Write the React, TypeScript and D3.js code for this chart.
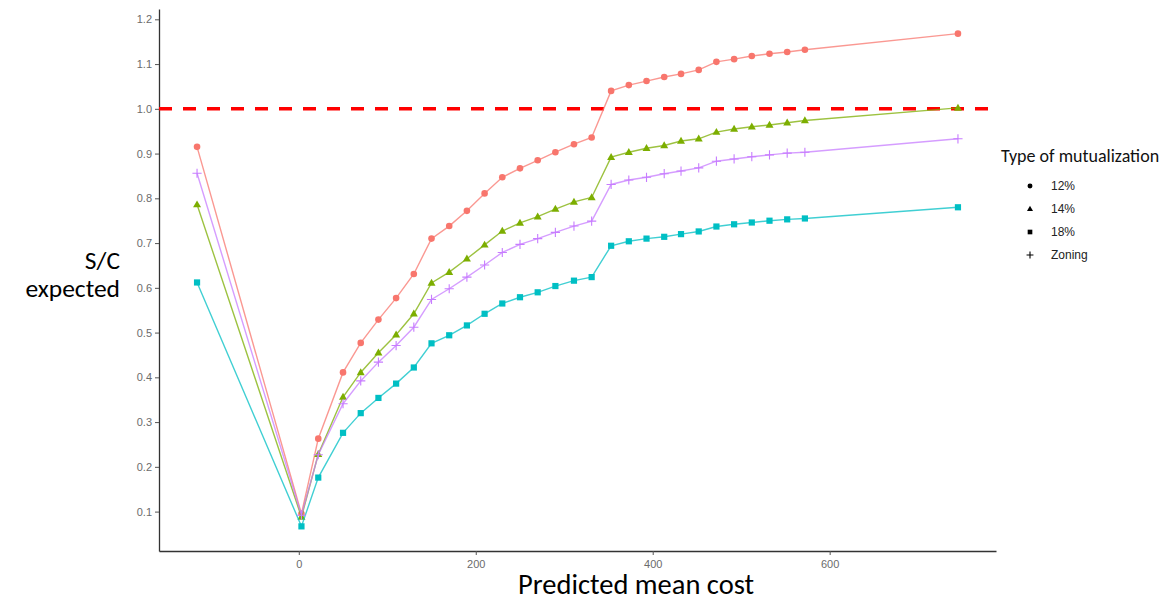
import { useEffect, useRef } from 'react';
import * as d3 from 'd3';

// predicted mean cost (x) shared by all series
const costs = [
  -115, 3, 22, 50, 70, 90, 110, 130, 150, 170, 190, 210, 230, 250, 270, 290,
  311, 331, 353, 373, 393, 413, 432, 452, 472, 492, 512, 532, 552, 572, 745,
];

const sc12 = [
  0.915, 0.095, 0.263, 0.411, 0.477, 0.529, 0.577, 0.631, 0.71, 0.738, 0.772,
  0.811, 0.847, 0.867, 0.885, 0.903, 0.921, 0.936, 1.04, 1.053, 1.062, 1.071,
  1.078, 1.087, 1.105, 1.111, 1.118, 1.123, 1.127, 1.132, 1.168,
];
const sc14 = [
  0.786, 0.088, 0.228, 0.356, 0.411, 0.455, 0.495, 0.542, 0.611, 0.635, 0.665,
  0.696, 0.727, 0.745, 0.759, 0.776, 0.792, 0.802, 0.892, 0.903, 0.912, 0.918,
  0.928, 0.933, 0.948, 0.955, 0.96, 0.964, 0.969, 0.974, 1.002,
];
const sc18 = [
  0.612, 0.067, 0.176, 0.276, 0.32, 0.354, 0.386, 0.422, 0.476, 0.494, 0.516,
  0.542, 0.565, 0.579, 0.59, 0.604, 0.616, 0.624, 0.694, 0.704, 0.71, 0.714,
  0.72, 0.726, 0.737, 0.742, 0.746, 0.75, 0.753, 0.755, 0.78,
];
const scZoning = [
  0.856, 0.092, 0.227, 0.341, 0.392, 0.434, 0.471, 0.512, 0.574, 0.598, 0.624,
  0.651, 0.679, 0.697, 0.71, 0.724, 0.738, 0.749, 0.831, 0.841, 0.847, 0.855,
  0.861, 0.868, 0.883, 0.888, 0.893, 0.897, 0.901, 0.903, 0.933,
];

const seriesNames = ['12%', '14%', '18%', 'Zoning'];
const seriesColors = ['#F8766D', '#7CAE00', '#00BFC4', '#C77CFF'];
const seriesShapes = ['circle', 'triangle', 'square', 'plus'];
const seriesValues = [sc12, sc14, sc18, scZoning];

const yTicks = [0.1, 0.2, 0.3, 0.4, 0.5, 0.6, 0.7, 0.8, 0.9, 1.0, 1.1, 1.2];
const xTicks = [0, 200, 400, 600];
const refLine = 1.0;

const W = 1175;
const H = 602;

export default function App() {
  const svgRef = useRef<SVGSVGElement>(null);

  useEffect(() => {
    if (!svgRef.current) return;
    const svg = d3.select(svgRef.current);
    svg.selectAll('*').remove();

    const margin = { top: 9, right: 179, bottom: 51, left: 159 };
    const innerWidth = W - margin.left - margin.right;
    const innerHeight = H - margin.top - margin.bottom;

    const allY = seriesValues.flat();
    const xMin = d3.min(costs)!;
    const xMax = d3.max(costs)!;
    const yMin = d3.min(allY)!;
    const yMax = d3.max(allY)!;
    const xPad = (xMax - xMin) * 0.05;
    const yPad = (yMax - yMin) * 0.05;

    const x = d3
      .scaleLinear()
      .domain([xMin - xPad, xMax + xPad])
      .range([0, innerWidth]);
    const y = d3
      .scaleLinear()
      .domain([yMin - yPad, yMax + yPad])
      .range([innerHeight, 0]);

    const g = svg
      .append('g')
      .attr('transform', `translate(${margin.left},${margin.top})`);

    // Axes
    const xAxis = g
      .append('g')
      .attr('transform', `translate(0,${innerHeight})`)
      .call(d3.axisBottom(x).tickValues(xTicks).tickSize(4).tickPadding(5).tickSizeOuter(0));
    const yAxis = g
      .append('g')
      .call(
        d3
          .axisLeft(y)
          .tickValues(yTicks)
          .tickFormat(d3.format('.1f'))
          .tickSize(4)
          .tickPadding(3)
          .tickSizeOuter(0)
      );
    [xAxis, yAxis].forEach((ax) => {
      ax.select('.domain').attr('stroke', '#333').attr('stroke-width', 1.3);
      ax.selectAll('.tick line').attr('stroke', '#555').attr('stroke-width', 1);
      ax.selectAll('.tick text')
        .attr('fill', '#6b6b6b')
        .style('font-family', '"Liberation Sans", Arial, sans-serif')
        .style('font-size', '11px');
    });

    // Reference line
    g.append('line')
      .attr('x1', 0)
      .attr('x2', innerWidth)
      .attr('y1', y(refLine))
      .attr('y2', y(refLine))
      .attr('stroke', '#FF0000')
      .attr('stroke-width', 3.5)
      .attr('stroke-dasharray', '13,11');

    const line = d3
      .line<[number, number]>()
      .x((d) => x(d[0]))
      .y((d) => y(d[1]));

    const drawShape = (
      sel: d3.Selection<SVGGElement, unknown, null, undefined>,
      shape: string,
      cx: number,
      cy: number,
      color: string,
      s: number
    ) => {
      if (shape === 'circle') {
        sel.append('circle').attr('cx', cx).attr('cy', cy).attr('r', 3.3 * s).attr('fill', color);
      } else if (shape === 'triangle') {
        const r = 4.2 * s;
        sel
          .append('path')
          .attr(
            'd',
            `M${cx},${cy - r}L${cx + r * 0.95},${cy + r * 0.65}L${cx - r * 0.95},${cy + r * 0.65}Z`
          )
          .attr('fill', color);
      } else if (shape === 'square') {
        const h = 3.1 * s;
        sel
          .append('rect')
          .attr('x', cx - h)
          .attr('y', cy - h)
          .attr('width', 2 * h)
          .attr('height', 2 * h)
          .attr('fill', color);
      } else {
        const h = 4.6 * s;
        sel
          .append('path')
          .attr('d', `M${cx - h},${cy}H${cx + h}M${cx},${cy - h}V${cy + h}`)
          .attr('stroke', color)
          .attr('stroke-width', 1.1)
          .attr('fill', 'none');
      }
    };

    seriesValues.forEach((vals, i) => {
      const pts = costs.map((c, j) => [c, vals[j]] as [number, number]);
      const sg = g.append('g');
      sg.append('path')
        .datum(pts)
        .attr('d', line)
        .attr('fill', 'none')
        .attr('stroke', seriesColors[i])
        .attr('stroke-opacity', 0.75)
        .attr('stroke-width', 1.4);
      pts.forEach((p) => drawShape(sg, seriesShapes[i], x(p[0]), y(p[1]), seriesColors[i], 1));
    });

    // Axis titles
    svg
      .append('text')
      .attr('x', 636)
      .attr('y', 594)
      .attr('text-anchor', 'middle')
      .style('font-family', 'Carlito, "Open Sans", sans-serif')
      .style('font-size', '28.5px')
      .attr('fill', '#000')
      .text('Predicted mean cost');

    const yTitle = svg
      .append('text')
      .attr('text-anchor', 'end')
      .style('font-family', 'Carlito, "Open Sans", sans-serif')
      .style('font-size', '25.5px')
      .attr('fill', '#000');
    yTitle.append('tspan').attr('x', 120).attr('y', 269).text('S/C');
    yTitle.append('tspan').attr('x', 120).attr('y', 297).text('expected');

    // Legend
    const legend = svg.append('g').attr('transform', 'translate(1001,0)');
    legend
      .append('text')
      .attr('x', 0)
      .attr('y', 162)
      .style('font-family', 'Carlito, "Open Sans", sans-serif')
      .style('font-size', '18px')
      .attr('fill', '#111')
      .text('Type of mutualization');
    seriesNames.forEach((name, i) => {
      const cy = 186 + i * 23;
      const item = legend.append('g');
      drawShape(item, seriesShapes[i], 29, cy, '#000', 0.75);
      item
        .append('text')
        .attr('x', 50)
        .attr('y', cy + 4)
        .style('font-family', '"Liberation Sans", Arial, sans-serif')
        .style('font-size', '12px')
        .attr('fill', '#222')
        .text(name);
    });
  }, []);

  return (
    <svg
      ref={svgRef}
      width={W}
      height={H}
      style={{ position: 'absolute', left: 0, top: 0, background: '#fff' }}
    />
  );
}
